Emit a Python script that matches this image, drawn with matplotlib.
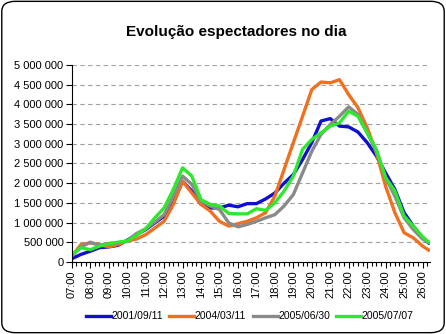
import numpy as np
import matplotlib.pyplot as plt
from matplotlib.patches import FancyBboxPatch
from matplotlib.ticker import FuncFormatter, MultipleLocator

plt.rcParams['font.family'] = ['Liberation Sans', 'DejaVu Sans']

# hours of the day (half-hour steps, last point a bit past 26:00)
hours = [7 + 0.5 * i for i in range(39)] + [26.33]

s_2001 = [0.08, 0.19, 0.27, 0.36, 0.38, 0.42, 0.55, 0.69, 0.82, 0.99,
          1.16, 1.50, 2.05, 1.80, 1.46, 1.37, 1.37, 1.44, 1.40, 1.48,
          1.48, 1.60, 1.75, 2.00, 2.22, 2.60, 3.03, 3.58, 3.64, 3.45,
          3.43, 3.30, 3.03, 2.69, 2.26, 1.84, 1.25, 0.91, 0.61, 0.48]
s_2004 = [0.15, 0.44, 0.48, 0.44, 0.38, 0.44, 0.53, 0.58, 0.69, 0.86,
          1.03, 1.46, 2.05, 1.75, 1.46, 1.29, 1.03, 0.91, 0.97, 1.03,
          1.12, 1.25, 1.67, 2.35, 3.03, 3.70, 4.38, 4.57, 4.55, 4.63,
          4.25, 3.92, 3.41, 2.77, 1.92, 1.25, 0.74, 0.61, 0.40, 0.30]
s_2005a = [0.15, 0.38, 0.50, 0.42, 0.47, 0.48, 0.53, 0.72, 0.84, 1.01,
           1.20, 1.67, 2.18, 1.97, 1.54, 1.42, 1.33, 0.99, 0.89, 0.95,
           1.03, 1.12, 1.20, 1.42, 1.71, 2.26, 2.81, 3.24, 3.49, 3.70,
           3.94, 3.75, 3.28, 2.81, 2.14, 1.67, 1.12, 0.82, 0.58, 0.50]
s_2005b = [0.19, 0.36, 0.31, 0.40, 0.46, 0.50, 0.53, 0.67, 0.84, 1.12,
           1.37, 1.84, 2.39, 2.18, 1.58, 1.46, 1.42, 1.23, 1.22, 1.22,
           1.35, 1.31, 1.50, 1.80, 2.18, 2.86, 3.11, 3.28, 3.45, 3.53,
           3.83, 3.70, 3.28, 2.86, 2.14, 1.80, 1.16, 0.91, 0.64, 0.50]

series = [
    ("2001/09/11", s_2001, "#1010cc"),
    ("2004/03/11", s_2004, "#f07020"),
    ("2005/06/30", s_2005a, "#8a8a8a"),
    ("2005/07/07", s_2005b, "#2ee82e"),
]
tick_hours = list(range(7, 27))
tick_labels = [f"{h:02d}:00" for h in tick_hours]

fig = plt.figure(figsize=(4.46, 3.34), dpi=100)
fig.patches.append(FancyBboxPatch((0.004, 0.004), 0.992, 0.992,
                                  boxstyle="round,pad=0,rounding_size=0.03",
                                  transform=fig.transFigure, fill=False,
                                  edgecolor='black', linewidth=1))
ax = fig.add_axes([0.161, 0.216, 0.803, 0.589])

for name, vals, col in series:
    ax.plot(hours, np.array(vals) * 1e6, color=col, linewidth=2.4, label=name)

ax.set_xlim(7, 26.4)
ax.set_ylim(0, 5e6)
ax.yaxis.set_major_locator(MultipleLocator(5e5))
ax.yaxis.set_major_formatter(FuncFormatter(lambda v, p: f"{v:,.0f}".replace(",", " ")))
ax.set_xticks(tick_hours)
ax.set_xticklabels(tick_labels, rotation=90)
ax.xaxis.set_minor_locator(MultipleLocator(0.25))
ax.tick_params(axis='both', labelsize=8, length=4, width=0.8, pad=2)
ax.tick_params(axis='x', which='minor', length=3, width=0.8)
ax.grid(axis='y', color='#a0a0a0', linestyle=(0, (4, 3)), linewidth=0.8)
ax.set_axisbelow(True)
for side in ['top', 'right']:
    ax.spines[side].set_visible(False)

fig.text(0.53, 0.905, "Evolução espectadores no dia", ha='center', va='center',
         fontsize=11, fontweight='bold')
fig.legend(loc='center', bbox_to_anchor=(0.56, 0.053), ncol=4, frameon=False,
           fontsize=7.5, handlelength=2.4, handletextpad=0.05, columnspacing=0.6)

fig.savefig("out.png", dpi=100)
